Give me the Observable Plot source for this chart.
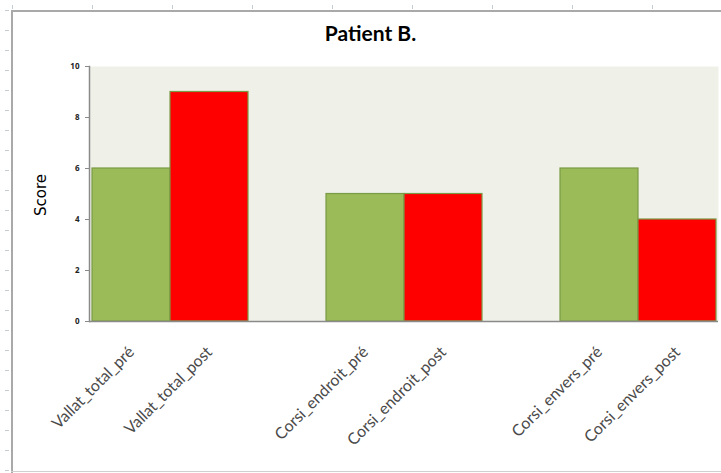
<!DOCTYPE html>
<html>
<head>
<meta charset="utf-8">
<script src="https://cdn.jsdelivr.net/npm/d3@7"></script>
<script src="https://cdn.jsdelivr.net/npm/@observablehq/plot@0.6"></script>
<style>
  html, body { margin: 0; padding: 0; background: #fff; }
  #wrap { position: relative; width: 721px; height: 473px; overflow: hidden; }
  #title { position: absolute; left: 0; width: 741px; top: 20px; text-align: center;
           font: bold 21px Lato, "Open Sans", sans-serif; color: #000; }
  #score { position: absolute; left: 41px; top: 195px; transform: translate(-50%, -50%) rotate(-90deg);
           font: 15px "DejaVu Sans", Verdana, sans-serif; color: #000; white-space: nowrap; }
  .bl { position: absolute; background: #a9a9a9; }
  #rulerLeft { position: absolute; left: 5px; top: 0; width: 4px; height: 473px;
    background: linear-gradient(to bottom, #c4ccd4 0, #c4ccd4 1px, transparent 1px);
    background-size: 4px 20px; background-position: 0 10px; }
  #rulerTop { position: absolute; top: 5px; left: 0; width: 721px; height: 4px;
    background: linear-gradient(to right, #c4ccd4 0, #c4ccd4 1px, transparent 1px);
    background-size: 80px 4px; background-position: 12px 0; }
  svg { position: absolute; left: 0; top: 0; }
</style>
</head>
<body>
<div id="wrap">
  <div id="rulerLeft"></div>
  <div id="rulerTop"></div>
  <div class="bl" style="left:11px; top:10px; width:710px; height:2px;"></div>
  <div class="bl" style="left:11px; top:10px; width:2px; height:463px;"></div>
  <div class="bl" style="left:11px; top:471px; width:710px; height:1px; background:#d0d0d0;"></div>
  <div id="title">Patient B.</div>
  <div id="score">Score</div>
</div>
<script>
const categories = ["Vallat_total_pré", "Vallat_total_post", "Corsi_endroit_pré", "Corsi_endroit_post", "Corsi_envers_pré", "Corsi_envers_post"];
const phases = ["pré", "post", "pré", "post", "pré", "post"];
const scores = [6, 9, 5, 5, 6, 4];
const yTicks = [0, 2, 4, 6, 8, 10];
const spacers = ["\u200b", "\u200b\u200b"];

const data = categories.map((c, i) => ({category: c, phase: phases[i], score: scores[i]}));
const xDomain = [categories[0], categories[1], spacers[0], categories[2], categories[3], spacers[1], categories[4], categories[5]];

const chart = Plot.plot({
  width: 721,
  height: 473,
  marginLeft: 89,
  marginRight: 3,
  marginTop: 66,
  marginBottom: 152,
  style: {background: "transparent", overflow: "visible"},
  x: {domain: xDomain, padding: 0, label: null},
  y: {domain: [0, 10], label: null},
  color: {domain: ["pré", "post"], range: ["#9bbb59", "#ff0000"]},
  marks: [
    Plot.frame({fill: "#eff1e9", stroke: null}),
    Plot.barY(data, {x: "category", y: "score", fill: "phase", stroke: "#7a9a45", strokeWidth: 1.2}),
    Plot.ruleY([0], {stroke: "#8a8a8a", strokeWidth: 1.5}),
    Plot.frame({anchor: "left", stroke: "#8a8a8a", strokeWidth: 1.5}),
    Plot.axisY(yTicks, {tickSize: 4, tickPadding: 6, stroke: "#8a8a8a", fontSize: 8, fontWeight: "bold", fill: "#222", label: null}),
    Plot.axisX({tickSize: 0, tickRotate: -45, tickPadding: 28, fontSize: 16, fill: "#4a4a4a",
      fontFamily: "Lato, 'Open Sans', sans-serif", label: null})
  ]
});
document.getElementById("wrap").appendChild(chart);
</script>
</body>
</html>
